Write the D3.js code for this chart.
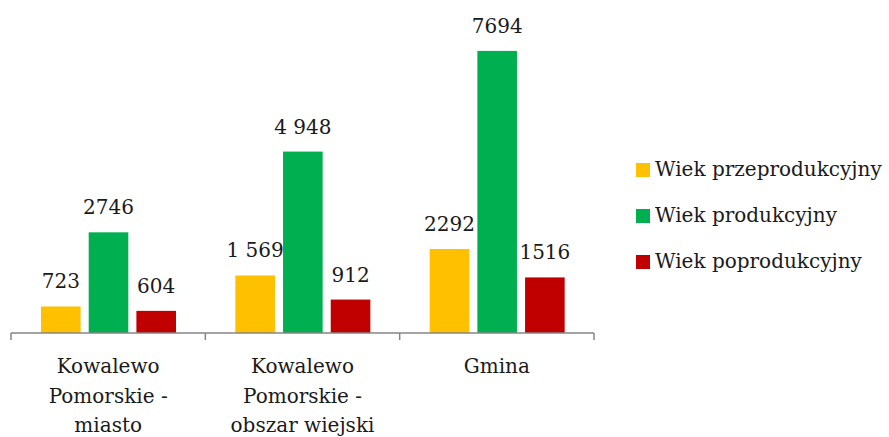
<!DOCTYPE html>
<html>
<head>
<meta charset="utf-8">
<script src="https://d3js.org/d3.v7.min.js"></script>
</head>
<body style="margin:0">
<script>
    // data
    var categories = [["Kowalewo", "Pomorskie -", "miasto"], ["Kowalewo", "Pomorskie -", "obszar wiejski"], ["Gmina"]];
    var seriesNames = ["Wiek przeprodukcyjny", "Wiek produkcyjny", "Wiek poprodukcyjny"];
    var seriesColors = ["#FFC000", "#00B050", "#C00000"];
    var przed = [723, 1569, 2292];
    var prod = [2746, 4948, 7694];
    var po = [604, 912, 1516];
    var valueLabels = [["723", "2746", "604"], ["1 569", "4 948", "912"], ["2292", "7694", "1516"]];

    var width = 889, height = 437;
    var svg = d3.select("body").append("svg")
        .attr("width", width)
        .attr("height", height);

    var x0 = d3.scaleBand().domain(d3.range(categories.length)).range([11, 594]).paddingInner(0).paddingOuter(0);
    var x1 = d3.scaleBand().domain(d3.range(seriesNames.length)).range([30, 165]).paddingInner(0.17);
    var y = d3.scaleLinear().domain([0, 9000]).range([333, 3]);

    var rows = categories.map(function(c, i) { return [przed[i], prod[i], po[i]]; });

    var groups = svg.selectAll(".grp")
        .data(rows)
        .join("g")
        .attr("class", "grp")
        .attr("transform", (d, i) => `translate(${x0(i)},0)`);

    groups.selectAll("rect")
        .data(d => d)
        .join("rect")
        .attr("x", (d, j) => x1(j))
        .attr("width", x1.bandwidth())
        .attr("y", d => y(d))
        .attr("height", d => y(0) - y(d))
        .attr("fill", (d, j) => seriesColors[j]);

    groups.selectAll(".val")
        .data((d, i) => d.map((v, j) => ({v: v, label: valueLabels[i][j]})))
        .join("text")
        .attr("class", "val")
        .attr("x", (d, j) => x1(j) + x1.bandwidth() / 2)
        .attr("y", d => y(d.v) - 18)
        .attr("text-anchor", "middle")
        .attr("font-family", "DejaVu Serif")
        .attr("font-size", 20)
        .attr("fill", "#1a1a1a")
        .text(d => d.label);

    // category axis
    var axis = svg.append("g").attr("transform", "translate(0,333)");
    axis.append("line").attr("x1", 11).attr("x2", 594).attr("stroke", "#868686").attr("stroke-width", 1.5);
    var tickX = d3.range(categories.length + 1).map(i => i < categories.length ? x0(i) : x0(i - 1) + x0.bandwidth());
    axis.selectAll(".tk").data(tickX).join("line")
        .attr("x1", d => d).attr("x2", d => d)
        .attr("y1", 0).attr("y2", 7)
        .attr("stroke", "#868686").attr("stroke-width", 1.5);

    svg.selectAll(".cat")
        .data(categories)
        .join("text")
        .attr("class", "cat")
        .attr("text-anchor", "middle")
        .attr("x", (d, i) => x0(i) + x0.bandwidth() / 2)
        .attr("y", 373)
        .attr("font-family", "DejaVu Serif")
        .attr("font-size", 20)
        .attr("fill", "#1a1a1a")
        .selectAll("tspan")
        .data(d => d)
        .join("tspan")
        .attr("x", function() { return this.parentNode.getAttribute("x"); })
        .attr("dy", (d, k) => k === 0 ? 0 : 29.5)
        .text(d => d);

    // legend
    var legend = svg.selectAll(".legend")
        .data(seriesNames)
        .join("g")
        .attr("class", "legend")
        .attr("transform", (d, i) => `translate(636,${163 + i * 46})`);

    legend.append("rect")
        .attr("width", 14).attr("height", 14)
        .attr("fill", (d, i) => seriesColors[i]);

    legend.append("text")
        .attr("x", 19)
        .attr("y", 13)
        .attr("font-family", "DejaVu Serif")
        .attr("font-size", 20)
        .attr("fill", "#1a1a1a")
        .text(d => d);
</script>
</body>
</html>
